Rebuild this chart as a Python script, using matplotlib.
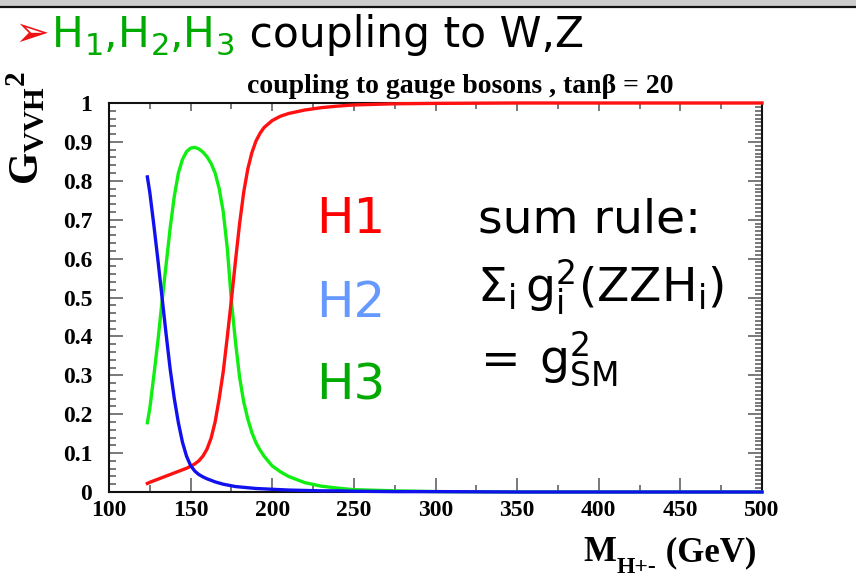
import matplotlib
matplotlib.use("Agg")
import matplotlib.pyplot as plt
from matplotlib.ticker import MultipleLocator
from matplotlib.patches import Rectangle
from matplotlib.lines import Line2D

# charged Higgs mass scan (GeV) and squared gauge couplings of the neutral states
mass = [123.5, 125, 127.5, 130, 132.5, 135, 137.5, 140, 142.5, 145, 147.5, 150,
        152.5, 155, 157.5, 160, 162.5, 165, 167.5, 170, 172.5, 175, 177.5, 180,
        182.5, 185, 187.5, 190, 192.5, 195, 200, 205, 210, 220, 230, 240, 250,
        275, 300, 350, 400, 450, 500]
g2_h1 = [0.022, 0.025, 0.029, 0.033, 0.037, 0.041, 0.045, 0.049, 0.053, 0.057,
         0.061, 0.066, 0.072, 0.080, 0.092, 0.110, 0.138, 0.180, 0.240, 0.310,
         0.400, 0.495, 0.595, 0.690, 0.770, 0.830, 0.872, 0.902, 0.922, 0.937,
         0.955, 0.966, 0.973, 0.982, 0.988, 0.992, 0.995, 0.998, 0.999, 1.0,
         1.0, 1.0, 1.0]
g2_h2 = [0.810, 0.770, 0.685, 0.595, 0.500, 0.405, 0.315, 0.240, 0.178, 0.128,
         0.092, 0.068, 0.054, 0.045, 0.039, 0.034, 0.030, 0.026, 0.023, 0.020,
         0.018, 0.016, 0.014, 0.013, 0.012, 0.011, 0.010, 0.009, 0.0085, 0.008,
         0.007, 0.006, 0.005, 0.004, 0.003, 0.003, 0.002, 0.001, 0.001, 0.0,
         0.0, 0.0, 0.0]
g2_h3 = [0.178, 0.215, 0.300, 0.390, 0.490, 0.585, 0.680, 0.760, 0.820, 0.855,
         0.875, 0.884, 0.886, 0.882, 0.874, 0.862, 0.845, 0.820, 0.780, 0.720,
         0.625, 0.490, 0.385, 0.295, 0.232, 0.188, 0.153, 0.127, 0.108, 0.092,
         0.067, 0.052, 0.040, 0.024, 0.015, 0.010, 0.006, 0.003, 0.001, 0.0,
         0.0, 0.0, 0.0]

x_ticks = [100, 150, 200, 250, 300, 350, 400, 450, 500]
y_ticks = [0, 0.1, 0.2, 0.3, 0.4, 0.5, 0.6, 0.7, 0.8, 0.9, 1]
y_ticklabels = ["0", "0.1", "0.2", "0.3", "0.4", "0.5", "0.6", "0.7", "0.8", "0.9", "1"]

SERIF = "Liberation Serif"
SANS = "DejaVu Sans"
RED = "#ff1111"
BLUE = "#1111ee"
GREEN = "#11ee11"

W, H = 856, 585
fig = plt.figure(figsize=(W / 100, H / 100), dpi=100)
fig.patch.set_facecolor("white")


def fx(x):
    return x / W


def fy(y):
    return 1 - y / H


# grey strip with dark rule along the top edge
fig.patches.append(Rectangle((0, fy(6)), 1, 6 / H, transform=fig.transFigure,
                             facecolor="#cccccc", edgecolor="none"))
fig.lines.append(Line2D([0, 1], [fy(7), fy(7)], transform=fig.transFigure,
                        color="#111111", lw=1.6))

renderer = fig.canvas.get_renderer()


def put(x, y, s, **kw):
    t = fig.text(fx(x), fy(y), s, va="baseline", **kw)
    return x + t.get_window_extent(renderer).width


# slide heading
put(14, 46, "\u27a2", color="#ee1111", fontsize=30, family=[SANS])
x = 52
for i in (1, 2, 3):
    x = put(x, 47, "H", color="#00aa00", fontsize=30.5, family=[SANS])
    x = put(x + 1, 55, str(i), color="#00aa00", fontsize=22, family=[SANS])
    if i < 3:
        x = put(x, 47, ",", color="#00aa00", fontsize=30.5, family=[SANS])
put(x, 47, " coupling to W,Z", color="black", fontsize=30.5, family=[SANS])

# main plot
ax = fig.add_axes([fx(109), fy(492), (762 - 109) / W, (492 - 103) / H])
ax.plot(mass, g2_h3, color=GREEN, lw=2.4, clip_on=False, zorder=5,
        solid_joinstyle="round")
ax.plot(mass, g2_h1, color=RED, lw=2.4, clip_on=False, zorder=5,
        solid_joinstyle="round")
ax.plot(mass, g2_h2, color=BLUE, lw=2.4, clip_on=False, zorder=5,
        solid_joinstyle="round")
ax.set_xlim(100, 500)
ax.set_ylim(0, 1)

ax.set_xticks(x_ticks)
ax.set_xticklabels([str(v) for v in x_ticks])
ax.set_yticks(y_ticks)
ax.set_yticklabels(y_ticklabels)
ax.xaxis.set_minor_locator(MultipleLocator(25))
ax.yaxis.set_minor_locator(MultipleLocator(0.02))
ax.tick_params(which="both", direction="in", top=False, right=False,
               color="#555555", width=1.1)
ax.tick_params(which="major", length=10)
ax.tick_params(which="minor", length=5)
ax.tick_params(axis="y", which="major", pad=12)
ax.tick_params(axis="x", which="major", pad=6)
for lab in ax.get_xticklabels() + ax.get_yticklabels():
    lab.set_family(SERIF)
    lab.set_fontweight("bold")
    lab.set_fontsize(17)
for sp in ax.spines.values():
    sp.set_linewidth(1.5)
    sp.set_color("#111111")

# top axis: shorter ticks, no labels
top = ax.secondary_xaxis("top")
top.set_xticks(x_ticks)
top.xaxis.set_minor_locator(MultipleLocator(25))
top.tick_params(which="both", direction="in", labeltop=False,
                color="#555555", width=1.1)
top.tick_params(which="major", length=6)
top.tick_params(which="minor", length=4)
top.spines["top"].set_visible(False)

# right axis: finer minor ticks, no labels
right = ax.secondary_yaxis("right")
right.set_yticks(y_ticks)
right.yaxis.set_minor_locator(MultipleLocator(0.01))
right.tick_params(which="both", direction="in", labelright=False,
                  color="#555555", width=1.1)
right.tick_params(which="major", length=10)
right.tick_params(which="minor", length=5)
right.spines["right"].set_visible(False)

# plot title and axis titles
fig.text(fx(460), fy(93), "coupling to gauge bosons , tan\u03b2 = 20",
         ha="center", va="baseline", family=[SERIF], fontweight="bold",
         fontsize=20)
fig.text(fx(26), fy(128), r"$\mathregular{G_{VVH}{}^{2}}$", rotation=90,
         ha="center", va="center", family=[SERIF], fontweight="bold",
         fontsize=30)
x = put(583, 561, "M", family=[SERIF], fontweight="bold", fontsize=25)
x = put(x + 1, 573, "H+-", family=[SERIF], fontweight="bold", fontsize=17)
put(x, 561, " (GeV)", family=[SERIF], fontweight="bold", fontsize=25)

# state labels
put(316, 233, "H1", color="#ff0000", fontsize=36, family=[SANS])
put(316, 317, "H2", color="#6699ff", fontsize=36, family=[SANS])
put(316, 400, "H3", color="#00aa00", fontsize=36, family=[SANS])

# sum rule
put(478, 233, "sum rule:", color="black", fontsize=34, family=[SANS])
put(477, 302, r"$\mathregular{\Sigma_i\,g_i^2(ZZH_i)}$", color="black",
    fontsize=34, family=[SANS])
x = put(481, 374, "=", color="black", fontsize=34, family=[SANS])
put(x + 18, 374, r"$\mathregular{g_{SM}^2}$", color="black",
    fontsize=34, family=[SANS])

fig.savefig("out.png", dpi=100)
